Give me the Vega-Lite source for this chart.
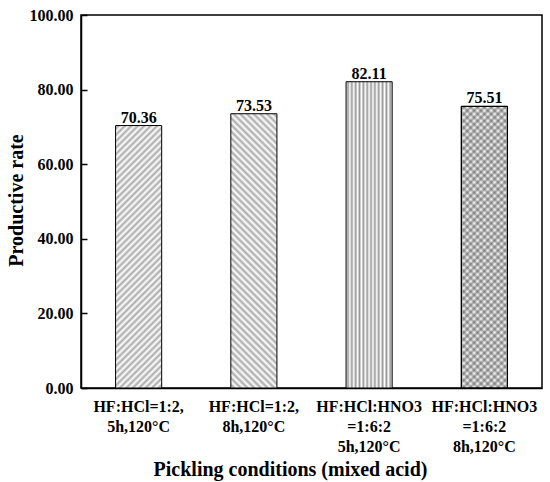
{
  "$schema": "https://vega.github.io/schema/vega-lite/v6.json",
  "autosize": "none",
  "width": 461,
  "height": 373,
  "padding": {"left": 81, "top": 15, "right": 8, "bottom": 94},
  "background": "white",
  "config": {
    "view": {"stroke": "black", "strokeWidth": 1.5},
    "axis": {
      "labelFont": "Liberation Serif",
      "labelFontSize": 16,
      "labelFontWeight": "bold",
      "labelColor": "black",
      "titleFont": "Liberation Serif",
      "titleFontWeight": "bold",
      "titleColor": "black",
      "domainColor": "black",
      "domainWidth": 1.5,
      "tickColor": "black",
      "tickWidth": 1.5,
      "grid": false
    }
  },
  "params": [
    {
      "name": "stopsA",
      "value": [
        {"offset": 0, "color": "#fff"}, {"offset": 0.0104, "color": "#aaa"}, {"offset": 0.0208, "color": "#fff"}, {"offset": 0.0313, "color": "#aaa"},
        {"offset": 0.0417, "color": "#fff"}, {"offset": 0.0521, "color": "#aaa"}, {"offset": 0.0625, "color": "#fff"}, {"offset": 0.0729, "color": "#aaa"},
        {"offset": 0.0833, "color": "#fff"}, {"offset": 0.0938, "color": "#aaa"}, {"offset": 0.1042, "color": "#fff"}, {"offset": 0.1146, "color": "#aaa"},
        {"offset": 0.125, "color": "#fff"}, {"offset": 0.1354, "color": "#aaa"}, {"offset": 0.1458, "color": "#fff"}, {"offset": 0.1563, "color": "#aaa"},
        {"offset": 0.1667, "color": "#fff"}, {"offset": 0.1771, "color": "#aaa"}, {"offset": 0.1875, "color": "#fff"}, {"offset": 0.1979, "color": "#aaa"},
        {"offset": 0.2083, "color": "#fff"}, {"offset": 0.2188, "color": "#aaa"}, {"offset": 0.2292, "color": "#fff"}, {"offset": 0.2396, "color": "#aaa"},
        {"offset": 0.25, "color": "#fff"}, {"offset": 0.2604, "color": "#aaa"}, {"offset": 0.2708, "color": "#fff"}, {"offset": 0.2813, "color": "#aaa"},
        {"offset": 0.2917, "color": "#fff"}, {"offset": 0.3021, "color": "#aaa"}, {"offset": 0.3125, "color": "#fff"}, {"offset": 0.3229, "color": "#aaa"},
        {"offset": 0.3333, "color": "#fff"}, {"offset": 0.3438, "color": "#aaa"}, {"offset": 0.3542, "color": "#fff"}, {"offset": 0.3646, "color": "#aaa"},
        {"offset": 0.375, "color": "#fff"}, {"offset": 0.3854, "color": "#aaa"}, {"offset": 0.3958, "color": "#fff"}, {"offset": 0.4063, "color": "#aaa"},
        {"offset": 0.4167, "color": "#fff"}, {"offset": 0.4271, "color": "#aaa"}, {"offset": 0.4375, "color": "#fff"}, {"offset": 0.4479, "color": "#aaa"},
        {"offset": 0.4583, "color": "#fff"}, {"offset": 0.4688, "color": "#aaa"}, {"offset": 0.4792, "color": "#fff"}, {"offset": 0.4896, "color": "#aaa"},
        {"offset": 0.5, "color": "#fff"}, {"offset": 0.5104, "color": "#aaa"}, {"offset": 0.5208, "color": "#fff"}, {"offset": 0.5313, "color": "#aaa"},
        {"offset": 0.5417, "color": "#fff"}, {"offset": 0.5521, "color": "#aaa"}, {"offset": 0.5625, "color": "#fff"}, {"offset": 0.5729, "color": "#aaa"},
        {"offset": 0.5833, "color": "#fff"}, {"offset": 0.5938, "color": "#aaa"}, {"offset": 0.6042, "color": "#fff"}, {"offset": 0.6146, "color": "#aaa"},
        {"offset": 0.625, "color": "#fff"}, {"offset": 0.6354, "color": "#aaa"}, {"offset": 0.6458, "color": "#fff"}, {"offset": 0.6563, "color": "#aaa"},
        {"offset": 0.6667, "color": "#fff"}, {"offset": 0.6771, "color": "#aaa"}, {"offset": 0.6875, "color": "#fff"}, {"offset": 0.6979, "color": "#aaa"},
        {"offset": 0.7083, "color": "#fff"}, {"offset": 0.7188, "color": "#aaa"}, {"offset": 0.7292, "color": "#fff"}, {"offset": 0.7396, "color": "#aaa"},
        {"offset": 0.75, "color": "#fff"}, {"offset": 0.7604, "color": "#aaa"}, {"offset": 0.7708, "color": "#fff"}, {"offset": 0.7813, "color": "#aaa"},
        {"offset": 0.7917, "color": "#fff"}, {"offset": 0.8021, "color": "#aaa"}, {"offset": 0.8125, "color": "#fff"}, {"offset": 0.8229, "color": "#aaa"},
        {"offset": 0.8333, "color": "#fff"}, {"offset": 0.8438, "color": "#aaa"}, {"offset": 0.8542, "color": "#fff"}, {"offset": 0.8646, "color": "#aaa"},
        {"offset": 0.875, "color": "#fff"}, {"offset": 0.8854, "color": "#aaa"}, {"offset": 0.8958, "color": "#fff"}, {"offset": 0.9063, "color": "#aaa"},
        {"offset": 0.9167, "color": "#fff"}, {"offset": 0.9271, "color": "#aaa"}, {"offset": 0.9375, "color": "#fff"}, {"offset": 0.9479, "color": "#aaa"},
        {"offset": 0.9583, "color": "#fff"}, {"offset": 0.9688, "color": "#aaa"}, {"offset": 0.9792, "color": "#fff"}, {"offset": 0.9896, "color": "#aaa"},
        {"offset": 1, "color": "#fff"}
      ]
    },
    {
      "name": "stopsB",
      "value": [
        {"offset": 0, "color": "rgba(0,0,0,0)"}, {"offset": 0.0104, "color": "rgba(0,0,0,0.3)"}, {"offset": 0.0208, "color": "rgba(0,0,0,0)"}, {"offset": 0.0313, "color": "rgba(0,0,0,0.3)"},
        {"offset": 0.0417, "color": "rgba(0,0,0,0)"}, {"offset": 0.0521, "color": "rgba(0,0,0,0.3)"}, {"offset": 0.0625, "color": "rgba(0,0,0,0)"}, {"offset": 0.0729, "color": "rgba(0,0,0,0.3)"},
        {"offset": 0.0833, "color": "rgba(0,0,0,0)"}, {"offset": 0.0938, "color": "rgba(0,0,0,0.3)"}, {"offset": 0.1042, "color": "rgba(0,0,0,0)"}, {"offset": 0.1146, "color": "rgba(0,0,0,0.3)"},
        {"offset": 0.125, "color": "rgba(0,0,0,0)"}, {"offset": 0.1354, "color": "rgba(0,0,0,0.3)"}, {"offset": 0.1458, "color": "rgba(0,0,0,0)"}, {"offset": 0.1563, "color": "rgba(0,0,0,0.3)"},
        {"offset": 0.1667, "color": "rgba(0,0,0,0)"}, {"offset": 0.1771, "color": "rgba(0,0,0,0.3)"}, {"offset": 0.1875, "color": "rgba(0,0,0,0)"}, {"offset": 0.1979, "color": "rgba(0,0,0,0.3)"},
        {"offset": 0.2083, "color": "rgba(0,0,0,0)"}, {"offset": 0.2188, "color": "rgba(0,0,0,0.3)"}, {"offset": 0.2292, "color": "rgba(0,0,0,0)"}, {"offset": 0.2396, "color": "rgba(0,0,0,0.3)"},
        {"offset": 0.25, "color": "rgba(0,0,0,0)"}, {"offset": 0.2604, "color": "rgba(0,0,0,0.3)"}, {"offset": 0.2708, "color": "rgba(0,0,0,0)"}, {"offset": 0.2813, "color": "rgba(0,0,0,0.3)"},
        {"offset": 0.2917, "color": "rgba(0,0,0,0)"}, {"offset": 0.3021, "color": "rgba(0,0,0,0.3)"}, {"offset": 0.3125, "color": "rgba(0,0,0,0)"}, {"offset": 0.3229, "color": "rgba(0,0,0,0.3)"},
        {"offset": 0.3333, "color": "rgba(0,0,0,0)"}, {"offset": 0.3438, "color": "rgba(0,0,0,0.3)"}, {"offset": 0.3542, "color": "rgba(0,0,0,0)"}, {"offset": 0.3646, "color": "rgba(0,0,0,0.3)"},
        {"offset": 0.375, "color": "rgba(0,0,0,0)"}, {"offset": 0.3854, "color": "rgba(0,0,0,0.3)"}, {"offset": 0.3958, "color": "rgba(0,0,0,0)"}, {"offset": 0.4063, "color": "rgba(0,0,0,0.3)"},
        {"offset": 0.4167, "color": "rgba(0,0,0,0)"}, {"offset": 0.4271, "color": "rgba(0,0,0,0.3)"}, {"offset": 0.4375, "color": "rgba(0,0,0,0)"}, {"offset": 0.4479, "color": "rgba(0,0,0,0.3)"},
        {"offset": 0.4583, "color": "rgba(0,0,0,0)"}, {"offset": 0.4688, "color": "rgba(0,0,0,0.3)"}, {"offset": 0.4792, "color": "rgba(0,0,0,0)"}, {"offset": 0.4896, "color": "rgba(0,0,0,0.3)"},
        {"offset": 0.5, "color": "rgba(0,0,0,0)"}, {"offset": 0.5104, "color": "rgba(0,0,0,0.3)"}, {"offset": 0.5208, "color": "rgba(0,0,0,0)"}, {"offset": 0.5313, "color": "rgba(0,0,0,0.3)"},
        {"offset": 0.5417, "color": "rgba(0,0,0,0)"}, {"offset": 0.5521, "color": "rgba(0,0,0,0.3)"}, {"offset": 0.5625, "color": "rgba(0,0,0,0)"}, {"offset": 0.5729, "color": "rgba(0,0,0,0.3)"},
        {"offset": 0.5833, "color": "rgba(0,0,0,0)"}, {"offset": 0.5938, "color": "rgba(0,0,0,0.3)"}, {"offset": 0.6042, "color": "rgba(0,0,0,0)"}, {"offset": 0.6146, "color": "rgba(0,0,0,0.3)"},
        {"offset": 0.625, "color": "rgba(0,0,0,0)"}, {"offset": 0.6354, "color": "rgba(0,0,0,0.3)"}, {"offset": 0.6458, "color": "rgba(0,0,0,0)"}, {"offset": 0.6563, "color": "rgba(0,0,0,0.3)"},
        {"offset": 0.6667, "color": "rgba(0,0,0,0)"}, {"offset": 0.6771, "color": "rgba(0,0,0,0.3)"}, {"offset": 0.6875, "color": "rgba(0,0,0,0)"}, {"offset": 0.6979, "color": "rgba(0,0,0,0.3)"},
        {"offset": 0.7083, "color": "rgba(0,0,0,0)"}, {"offset": 0.7188, "color": "rgba(0,0,0,0.3)"}, {"offset": 0.7292, "color": "rgba(0,0,0,0)"}, {"offset": 0.7396, "color": "rgba(0,0,0,0.3)"},
        {"offset": 0.75, "color": "rgba(0,0,0,0)"}, {"offset": 0.7604, "color": "rgba(0,0,0,0.3)"}, {"offset": 0.7708, "color": "rgba(0,0,0,0)"}, {"offset": 0.7813, "color": "rgba(0,0,0,0.3)"},
        {"offset": 0.7917, "color": "rgba(0,0,0,0)"}, {"offset": 0.8021, "color": "rgba(0,0,0,0.3)"}, {"offset": 0.8125, "color": "rgba(0,0,0,0)"}, {"offset": 0.8229, "color": "rgba(0,0,0,0.3)"},
        {"offset": 0.8333, "color": "rgba(0,0,0,0)"}, {"offset": 0.8438, "color": "rgba(0,0,0,0.3)"}, {"offset": 0.8542, "color": "rgba(0,0,0,0)"}, {"offset": 0.8646, "color": "rgba(0,0,0,0.3)"},
        {"offset": 0.875, "color": "rgba(0,0,0,0)"}, {"offset": 0.8854, "color": "rgba(0,0,0,0.3)"}, {"offset": 0.8958, "color": "rgba(0,0,0,0)"}, {"offset": 0.9063, "color": "rgba(0,0,0,0.3)"},
        {"offset": 0.9167, "color": "rgba(0,0,0,0)"}, {"offset": 0.9271, "color": "rgba(0,0,0,0.3)"}, {"offset": 0.9375, "color": "rgba(0,0,0,0)"}, {"offset": 0.9479, "color": "rgba(0,0,0,0.3)"},
        {"offset": 0.9583, "color": "rgba(0,0,0,0)"}, {"offset": 0.9688, "color": "rgba(0,0,0,0.3)"}, {"offset": 0.9792, "color": "rgba(0,0,0,0)"}, {"offset": 0.9896, "color": "rgba(0,0,0,0.3)"},
        {"offset": 1, "color": "rgba(0,0,0,0)"}
      ]
    },
    {
      "name": "stopsC",
      "value": [
        {"offset": 0, "color": "#fff"}, {"offset": 0.0417, "color": "#999"}, {"offset": 0.0833, "color": "#fff"}, {"offset": 0.125, "color": "#999"},
        {"offset": 0.1667, "color": "#fff"}, {"offset": 0.2083, "color": "#999"}, {"offset": 0.25, "color": "#fff"}, {"offset": 0.2917, "color": "#999"},
        {"offset": 0.3333, "color": "#fff"}, {"offset": 0.375, "color": "#999"}, {"offset": 0.4167, "color": "#fff"}, {"offset": 0.4583, "color": "#999"},
        {"offset": 0.5, "color": "#fff"}, {"offset": 0.5417, "color": "#999"}, {"offset": 0.5833, "color": "#fff"}, {"offset": 0.625, "color": "#999"},
        {"offset": 0.6667, "color": "#fff"}, {"offset": 0.7083, "color": "#999"}, {"offset": 0.75, "color": "#fff"}, {"offset": 0.7917, "color": "#999"},
        {"offset": 0.8333, "color": "#fff"}, {"offset": 0.875, "color": "#999"}, {"offset": 0.9167, "color": "#fff"}, {"offset": 0.9583, "color": "#999"},
        {"offset": 1, "color": "#fff"}
      ]
    }
  ],
  "data": {
    "values": [
      {"idx": 1, "condition": "HF:HCl=1:2,\n5h,120°C", "rate": 70.36},
      {"idx": 2, "condition": "HF:HCl=1:2,\n8h,120°C", "rate": 73.53},
      {"idx": 3, "condition": "HF:HCl:HNO3\n=1:6:2\n5h,120°C", "rate": 82.11},
      {"idx": 4, "condition": "HF:HCl:HNO3\n=1:6:2\n8h,120°C", "rate": 75.51}
    ]
  },
  "encoding": {
    "x": {
      "field": "condition",
      "type": "nominal",
      "sort": null,
      "scale": {
        "domain": ["HF:HCl=1:2,\n5h,120°C", "HF:HCl=1:2,\n8h,120°C", "HF:HCl:HNO3\n=1:6:2\n5h,120°C", "HF:HCl:HNO3\n=1:6:2\n8h,120°C"],
        "paddingInner": 0,
        "paddingOuter": 0
      },
      "axis": {
        "title": "Pickling conditions (mixed acid)",
        "titleFontSize": 20,
        "titleX": 209,
        "titleY": 87,
        "titleAlign": "center",
        "titleBaseline": "alphabetic",
        "labelAngle": 0,
        "labelExpr": "split(datum.label, '\\n')",
        "labelLineHeight": 20,
        "labelBaseline": "top",
        "labelPadding": 16,
        "labelOverlap": false,
        "tickSize": -6
      }
    },
    "y": {
      "field": "rate",
      "type": "quantitative",
      "scale": {"domain": [0, 100], "nice": false},
      "axis": {
        "title": "Productive rate",
        "titleFontSize": 20,
        "titleX": -65,
        "titleY": 185,
        "titleAlign": "center",
        "titleBaseline": "middle",
        "values": [0, 20, 40, 60, 80, 100],
        "format": ".2f",
        "labelPadding": 14,
        "tickSize": -6
      }
    }
  },
  "layer": [
    {
      "transform": [{"filter": "datum.idx == 1"}],
      "mark": {"type": "bar", "width": {"band": 0.4}, "stroke": "black", "strokeWidth": 1,
        "fill": {"expr": "{gradient: 'linear', x1: 0, y1: 0, x2: 0.1996, y2: 1.1401, stops: stopsA}"}}
    },
    {
      "transform": [{"filter": "datum.idx == 2"}],
      "mark": {"type": "bar", "width": {"band": 0.4}, "stroke": "black", "strokeWidth": 1,
        "fill": {"expr": "{gradient: 'linear', x1: 0, y1: 1, x2: 0.1902, y2: -0.1357, stops: stopsA}"}}
    },
    {
      "transform": [{"filter": "datum.idx == 3"}],
      "mark": {"type": "bar", "width": {"band": 0.4}, "stroke": "black", "strokeWidth": 1,
        "fill": {"expr": "{gradient: 'linear', x1: 0, y1: 0, x2: 1, y2: 0, stops: stopsC}"}}
    },
    {
      "transform": [{"filter": "datum.idx == 4"}],
      "mark": {"type": "bar", "width": {"band": 0.4}, "stroke": "black", "strokeWidth": 1,
        "fill": {"expr": "{gradient: 'linear', x1: 0, y1: 0, x2: 0.1848, y2: 1.133, stops: stopsA}"}}
    },
    {
      "transform": [{"filter": "datum.idx == 4"}],
      "mark": {"type": "bar", "width": {"band": 0.4}, "stroke": "black", "strokeWidth": 1,
        "fill": {"expr": "{gradient: 'linear', x1: 0, y1: 1, x2: 0.1848, y2: -0.133, stops: stopsB}"}}
    },
    {
      "mark": {"type": "text", "baseline": "alphabetic", "dy": -3, "font": "Liberation Serif", "fontSize": 16, "fontWeight": "bold", "color": "black"},
      "encoding": {
        "text": {"field": "rate", "type": "quantitative", "format": ".2f"}
      }
    }
  ]
}
